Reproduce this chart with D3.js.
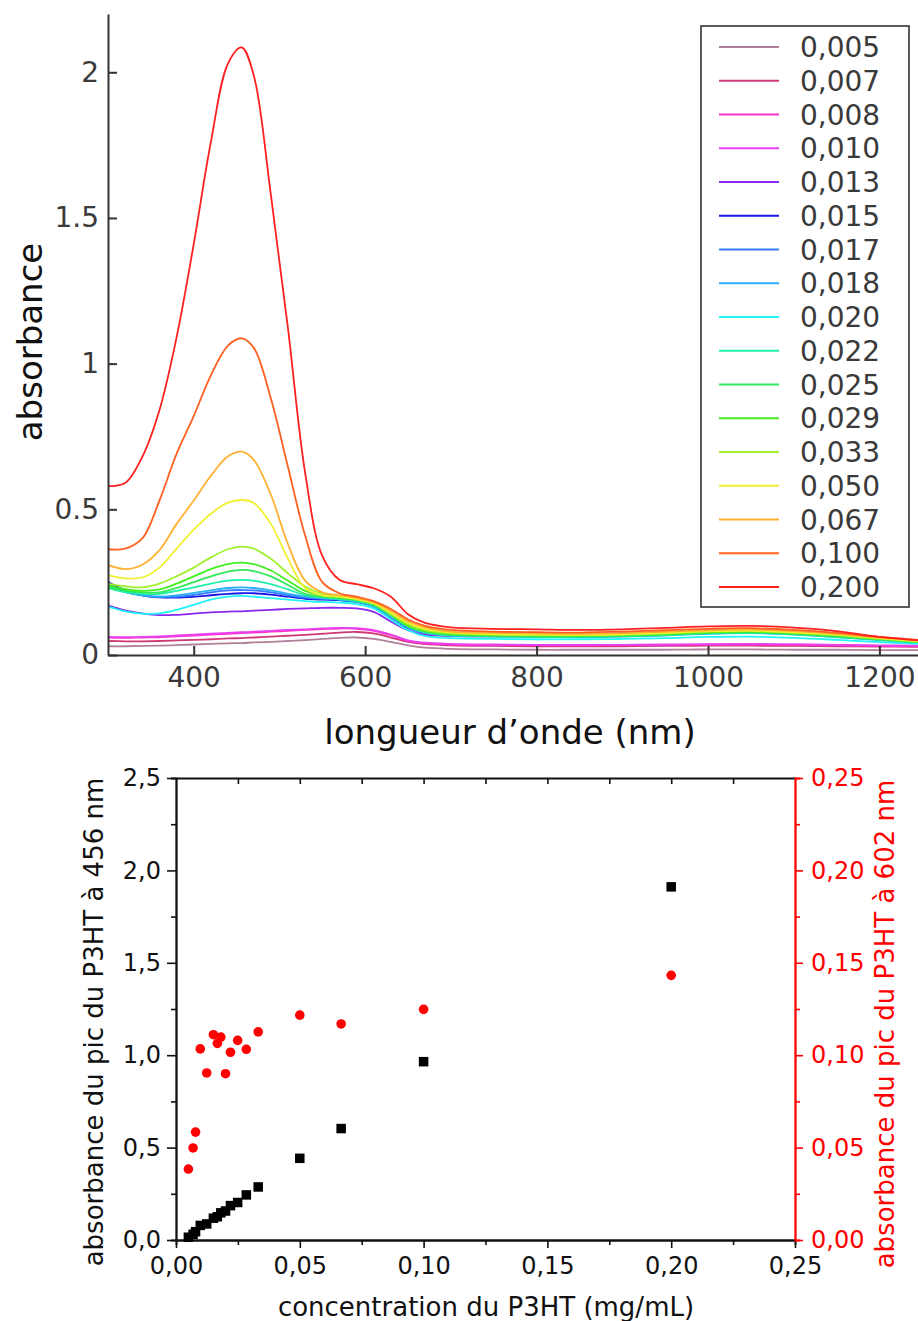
<!DOCTYPE html>
<html><head><meta charset="utf-8">
<script src="https://cdn.jsdelivr.net/npm/d3@7"></script>
<style>body{margin:0;background:#fff}svg{display:block}text{font-family:"DejaVu Sans",Verdana,sans-serif}</style>
</head><body>
<svg id="c" width="918" height="1321"></svg>
<script>
// ---------- data: spectra (top chart) ----------
const wavelengths = [300,320,340,360,380,400,420,440,456,470,490,510,530,550,570,590,610,630,650,670,700,750,800,850,900,950,1000,1050,1100,1150,1200,1245];
const legendLabels = ["0,005","0,007","0,008","0,010","0,013","0,015","0,017","0,018","0,020","0,022","0,025","0,029","0,033","0,050","0,067","0,100","0,200"];
const lineColors = ["#b0809a","#d03878","#ff30c8","#e840f0","#8a28f0","#1818e8","#3878ff","#28b0f8","#20f4f4","#20f0a8","#30e858","#40f020","#a0f030","#f0f030","#ffb030","#ff6020","#ff2020"];
const spec005 = [0.03,0.03,0.031,0.032,0.034,0.036,0.038,0.04,0.041,0.043,0.045,0.048,0.051,0.055,0.059,0.06,0.055,0.045,0.033,0.025,0.021,0.019,0.018,0.018,0.018,0.018,0.019,0.019,0.018,0.018,0.017,0.017];
const spec007 = [0.048,0.047,0.047,0.048,0.05,0.052,0.054,0.057,0.058,0.06,0.063,0.066,0.069,0.073,0.077,0.079,0.074,0.06,0.045,0.037,0.033,0.031,0.03,0.03,0.03,0.031,0.032,0.032,0.031,0.03,0.029,0.028];
const spec008 = [0.06,0.059,0.06,0.061,0.064,0.067,0.07,0.073,0.075,0.077,0.08,0.083,0.086,0.089,0.091,0.09,0.083,0.068,0.048,0.04,0.036,0.034,0.033,0.033,0.034,0.035,0.036,0.036,0.035,0.033,0.031,0.03];
const spec010 = [0.062,0.061,0.062,0.064,0.067,0.07,0.073,0.076,0.078,0.08,0.083,0.086,0.088,0.091,0.093,0.092,0.085,0.07,0.05,0.042,0.038,0.036,0.035,0.035,0.035,0.036,0.037,0.038,0.037,0.035,0.033,0.032];
const spec013 = [0.17,0.153,0.143,0.137,0.138,0.142,0.146,0.149,0.15,0.152,0.155,0.158,0.16,0.162,0.162,0.16,0.148,0.115,0.085,0.07,0.065,0.064,0.063,0.063,0.065,0.069,0.075,0.077,0.072,0.063,0.053,0.044];
const spec015 = [0.25,0.222,0.205,0.198,0.197,0.2,0.205,0.21,0.212,0.212,0.207,0.2,0.193,0.19,0.188,0.182,0.167,0.13,0.093,0.077,0.07,0.072,0.07,0.071,0.074,0.078,0.085,0.086,0.08,0.07,0.058,0.048];
const spec017 = [0.24,0.217,0.205,0.2,0.2,0.206,0.215,0.222,0.223,0.222,0.215,0.205,0.197,0.193,0.19,0.183,0.168,0.13,0.094,0.076,0.068,0.066,0.065,0.064,0.066,0.07,0.077,0.079,0.074,0.064,0.054,0.045];
const spec018 = [0.235,0.216,0.205,0.2,0.205,0.213,0.222,0.23,0.232,0.23,0.222,0.21,0.2,0.195,0.19,0.183,0.168,0.132,0.095,0.076,0.066,0.063,0.062,0.061,0.063,0.067,0.073,0.075,0.07,0.061,0.051,0.042];
const spec020 = [0.166,0.15,0.142,0.143,0.155,0.172,0.19,0.2,0.203,0.2,0.195,0.19,0.185,0.182,0.18,0.175,0.16,0.122,0.085,0.065,0.058,0.055,0.054,0.054,0.055,0.058,0.062,0.063,0.059,0.052,0.044,0.038];
const spec022 = [0.23,0.216,0.21,0.21,0.22,0.232,0.245,0.255,0.258,0.255,0.243,0.225,0.205,0.197,0.192,0.185,0.17,0.135,0.098,0.078,0.068,0.064,0.062,0.062,0.064,0.068,0.074,0.076,0.071,0.062,0.052,0.043];
const spec025 = [0.235,0.221,0.215,0.215,0.23,0.25,0.27,0.286,0.292,0.288,0.27,0.24,0.21,0.2,0.195,0.188,0.172,0.137,0.1,0.08,0.07,0.066,0.064,0.064,0.066,0.07,0.076,0.078,0.073,0.064,0.053,0.044];
const spec029 = [0.24,0.226,0.22,0.225,0.245,0.27,0.295,0.312,0.317,0.312,0.29,0.255,0.22,0.205,0.198,0.19,0.175,0.14,0.1,0.082,0.072,0.068,0.066,0.066,0.068,0.072,0.078,0.08,0.075,0.066,0.055,0.045];
const spec033 = [0.245,0.236,0.232,0.245,0.27,0.30,0.335,0.363,0.372,0.365,0.33,0.28,0.235,0.21,0.2,0.19,0.175,0.14,0.105,0.085,0.074,0.07,0.069,0.068,0.07,0.074,0.08,0.082,0.077,0.068,0.056,0.046];
const spec050 = [0.274,0.263,0.266,0.30,0.365,0.43,0.485,0.523,0.532,0.522,0.45,0.33,0.23,0.205,0.2,0.193,0.178,0.146,0.11,0.09,0.078,0.072,0.07,0.069,0.071,0.076,0.082,0.084,0.078,0.07,0.058,0.048];
const spec067 = [0.309,0.295,0.31,0.36,0.45,0.53,0.615,0.682,0.698,0.67,0.55,0.38,0.255,0.215,0.205,0.196,0.181,0.152,0.116,0.095,0.08,0.076,0.074,0.073,0.075,0.08,0.085,0.087,0.082,0.073,0.06,0.05];
const spec100 = [0.363,0.365,0.40,0.53,0.69,0.82,0.96,1.062,1.087,1.055,0.88,0.645,0.41,0.25,0.212,0.2,0.185,0.158,0.122,0.1,0.086,0.08,0.078,0.077,0.08,0.085,0.09,0.092,0.086,0.076,0.062,0.052];
const spec200 = [0.58,0.59,0.68,0.84,1.09,1.41,1.76,2.03,2.085,1.99,1.58,1.12,0.625,0.34,0.258,0.243,0.229,0.20,0.14,0.11,0.095,0.09,0.088,0.086,0.088,0.093,0.098,0.1,0.094,0.082,0.062,0.05];
const spectra = [spec005,spec007,spec008,spec010,spec013,spec015,spec017,spec018,spec020,spec022,spec025,spec029,spec033,spec050,spec067,spec100,spec200];
const topYTicks = [0,0.5,1,1.5,2];
const topXTicks = [400,600,800,1000,1200];

// ---------- data: peak absorbance vs concentration (bottom chart) ----------
const concentration = [0.005,0.0069,0.0079,0.0098,0.0124,0.0151,0.0167,0.0181,0.020,0.022,0.0249,0.0284,0.0332,0.050,0.0667,0.100,0.200];
const peak456 = [0.015,0.031,0.045,0.079,0.087,0.118,0.126,0.147,0.157,0.186,0.203,0.244,0.287,0.442,0.603,0.965,1.911];
const peak602 = [0.0384,0.0498,0.0584,0.1034,0.0904,0.1111,0.1064,0.1098,0.090,0.1016,0.108,0.1032,0.1126,0.1217,0.1169,0.1248,0.1432];
const botXTicks = [0,0.05,0.10,0.15,0.20,0.25];
const botXMinor = [0.025,0.075,0.125,0.175,0.225];
const botLTicks = [0,0.5,1.0,1.5,2.0,2.5];
const botLMinor = [0.25,0.75,1.25,1.75,2.25];
const botRTicks = [0,0.05,0.10,0.15,0.20,0.25];
const botRMinor = [0.025,0.075,0.125,0.175,0.225];

const svg = d3.select("#c");
const comma = (n, d) => n.toFixed(d).replace(".", ",");

// ================= TOP CHART =================
const x1 = d3.scaleLinear().domain([300,1245]).range([108,918]);
const y1 = d3.scaleLinear().domain([0,2.2]).range([655,14]);

svg.append("defs").append("clipPath").attr("id","clipTop")
  .append("rect").attr("x",108).attr("y",10).attr("width",810).attr("height",645);

const line = d3.line()
  .x((d,i) => x1(wavelengths[i]))
  .y(d => y1(d))
  .curve(d3.curveCatmullRom.alpha(0.5));

const gLines = svg.append("g").attr("clip-path","url(#clipTop)");
spectra.forEach((s, k) => {
  gLines.append("path").attr("d", line(s)).attr("fill","none")
    .attr("stroke", lineColors[k]).attr("stroke-width",1.8);
});

const topAxisStyle = g => {
  g.selectAll("path.domain").attr("stroke","#333").attr("stroke-width",2);
  g.selectAll(".tick line").attr("stroke","#333").attr("stroke-width",2);
  g.selectAll("text").attr("fill","#3a3a3a").attr("font-size",28).attr("font-family","DejaVu Sans");
};
svg.append("g").attr("transform","translate(108,0)")
  .call(d3.axisLeft(y1).tickValues(topYTicks).tickSizeInner(-9).tickSizeOuter(0).tickPadding(9).tickFormat(d => String(d)))
  .call(topAxisStyle);
svg.append("g").attr("transform","translate(0,655)")
  .call(d3.axisBottom(x1).tickValues(topXTicks).tickSizeInner(-9).tickSizeOuter(0).tickPadding(12).tickFormat(d => String(d)))
  .call(topAxisStyle);

svg.append("text").attr("transform","translate(42,342) rotate(-90)")
  .attr("text-anchor","middle").attr("font-size",34).attr("fill","#111").text("absorbance");
svg.append("text").attr("x",510).attr("y",744)
  .attr("text-anchor","middle").attr("font-size",34).attr("fill","#111").text("longueur d\u2019onde (nm)");

// legend
const lg = svg.append("g");
lg.append("rect").attr("x",701).attr("y",26).attr("width",208).attr("height",581)
  .attr("fill","#fff").attr("stroke","#333").attr("stroke-width",1.6);
legendLabels.forEach((lab, k) => {
  const yy = 47 + k * 33.75;
  lg.append("line").attr("x1",719).attr("x2",779).attr("y1",yy).attr("y2",yy)
    .attr("stroke", lineColors[k]).attr("stroke-width",2);
  lg.append("text").attr("x",800).attr("y",yy + 10).attr("font-size",28).attr("fill","#3a3a3a").text(lab);
});

// ================= BOTTOM CHART =================
const x2 = d3.scaleLinear().domain([0,0.25]).range([176,795]);
const yL = d3.scaleLinear().domain([0,2.5]).range([1240,778]);
const yR = d3.scaleLinear().domain([0,0.25]).range([1240,778]);

const botStyle = col => g => {
  g.selectAll("path.domain").attr("stroke",col).attr("stroke-width",1.8);
  g.selectAll(".tick line").attr("stroke",col).attr("stroke-width",1.6);
  g.selectAll("text").attr("fill",col).attr("font-size",24).attr("font-family","DejaVu Sans");
};

// top border with inward ticks
svg.append("g").attr("transform","translate(0,778)")
  .call(d3.axisTop(x2).tickValues(botXMinor.concat(botXTicks.slice(1,5))).tickSizeInner(-6).tickSizeOuter(0).tickFormat(""))
  .call(botStyle("#111"));
// bottom
svg.append("g").attr("transform","translate(0,1240)")
  .call(d3.axisBottom(x2).tickValues(botXMinor).tickSize(5).tickFormat(""))
  .call(botStyle("#111"));
svg.append("g").attr("transform","translate(0,1240)")
  .call(d3.axisBottom(x2).tickValues(botXTicks).tickSizeInner(8).tickSizeOuter(0).tickPadding(9).tickFormat(d => comma(d,2)))
  .call(botStyle("#111"));
// left
svg.append("g").attr("transform","translate(176,0)")
  .call(d3.axisLeft(yL).tickValues(botLMinor).tickSize(5).tickFormat(""))
  .call(botStyle("#111"));
svg.append("g").attr("transform","translate(176,0)")
  .call(d3.axisLeft(yL).tickValues(botLTicks).tickSizeInner(9).tickSizeOuter(0).tickPadding(6).tickFormat(d => comma(d,1)))
  .call(botStyle("#111"));
// right (red)
svg.append("g").attr("transform","translate(795,0)")
  .call(d3.axisRight(yR).tickValues(botRMinor).tickSize(5).tickFormat(""))
  .call(botStyle("#ff0000"));
svg.append("g").attr("transform","translate(795,0)")
  .call(d3.axisRight(yR).tickValues(botRTicks).tickSizeInner(8).tickSizeOuter(0).tickPadding(8).tickFormat(d => comma(d,2)))
  .call(botStyle("#ff0000"));

// points
svg.append("g").selectAll("circle").data(concentration).join("circle")
  .attr("cx", d => x2(d)).attr("cy", (d,i) => yR(peak602[i])).attr("r",4.8).attr("fill","#ff0000");
const sq = 9.5;
svg.append("g").selectAll("rect").data(concentration).join("rect")
  .attr("x", d => x2(d) - sq/2).attr("y", (d,i) => yL(peak456[i]) - sq/2)
  .attr("width", sq).attr("height", sq).attr("fill","#000");

// titles
svg.append("text").attr("transform","translate(103,1022) rotate(-90)")
  .attr("text-anchor","middle").attr("font-size",26).attr("fill","#111").text("absorbance du pic du P3HT \u00e0 456 nm");
svg.append("text").attr("transform","translate(894,1024) rotate(-90)")
  .attr("text-anchor","middle").attr("font-size",26).attr("fill","#ff0000").text("absorbance du pic du P3HT \u00e0 602 nm");
svg.append("text").attr("x",486).attr("y",1316)
  .attr("text-anchor","middle").attr("font-size",26).attr("fill","#111").text("concentration du P3HT (mg/mL)");
</script>
</body></html>
